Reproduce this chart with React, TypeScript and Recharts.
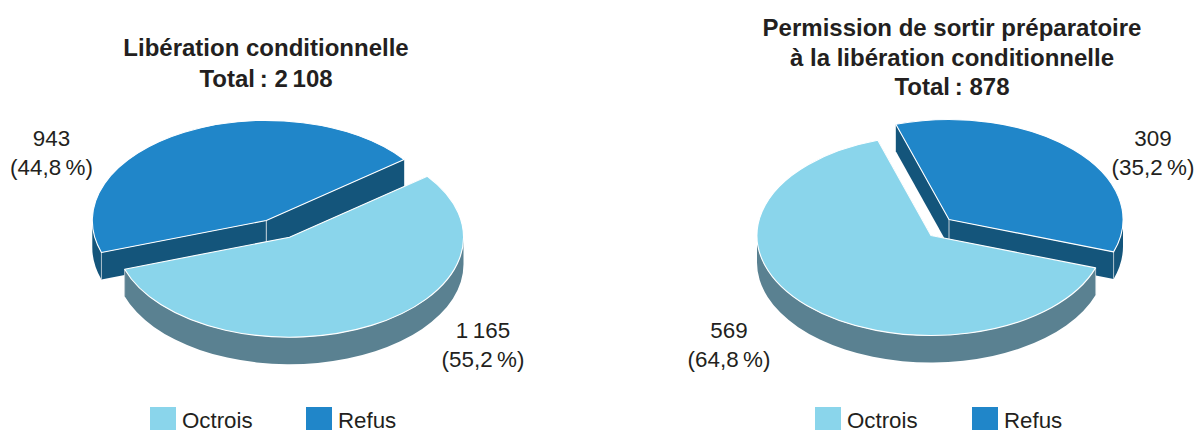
import React from 'react'
import { Legend, Pie, PieChart } from 'recharts'

const names = ['Refus', 'Octrois']
const fills = ['#2086c9', '#8ad5eb']
const walls = ['#14557b', '#5a8191']

const leftValues = [943, 1165]
const leftPercents = ['44,8', '55,2']
const rightValues = [309, 569]
const rightPercents = ['35,2', '64,8']

const leftTitle = ['Libération conditionnelle', 'Total\u2009: 2\u2009108']
const rightTitle = ['Permission de sortir préparatoire', 'à la libération conditionnelle', 'Total\u2009: 878']

const RX = 174
const RY = 100
const DEPTH = 27
const FONT = '"Liberation Sans", Arial, sans-serif'
const INK = '#231f20'

const fmt = (v: number) => String(v).replace(/\B(?=(\d{3})+$)/g, '\u2009')
const rad = (a: number) => (a * Math.PI) / 180

// recharts only knows circles, so the sector is re-drawn as a squashed slab
const makeSlab = (shift: number[][]) => (props: any) => {
  const { startAngle, endAngle, index, fill } = props
  const cx = props.cx + shift[index][0]
  const cy = props.cy + shift[index][1]
  const pt = (a: number, d = 0) => `${cx + RX * Math.cos(rad(a))} ${cy - RY * Math.sin(rad(a)) + d}`
  const wall = walls[index]
  const large = endAngle - startAngle > 180 ? 1 : 0

  const outer: number[][] = []
  for (const k of [-1, 0, 1]) {
    const a = Math.max(startAngle, 180 + 360 * k)
    const b = Math.min(endAngle, 360 + 360 * k)
    if (b > a) outer.push([a, b])
  }
  const edges = [startAngle, endAngle].filter((e) => outer.some(([a, b]) => e >= a && e <= b))
  const hub = `${cx} ${cy}`
  const hubLow = `${cx} ${cy + DEPTH}`

  return (
    <g>
      {[startAngle, endAngle].map((a) => (
        <path key={a} d={`M${hub} L${pt(a)} L${pt(a, DEPTH)} L${hubLow} Z`} fill={wall} />
      ))}
      {outer.map(([a, b]) => (
        <path
          key={a}
          d={`M${pt(a)} A${RX} ${RY} 0 0 0 ${pt(b)} L${pt(b, DEPTH)} A${RX} ${RY} 0 0 1 ${pt(a, DEPTH)} Z`}
          fill={wall}
        />
      ))}
      {edges.map((a) => (
        <path key={a} d={`M${pt(a)} L${pt(a, DEPTH)}`} stroke="#d5dde2" strokeWidth={0.7} />
      ))}
      <path d={`M${hub} L${hubLow}`} stroke="#d5dde2" strokeWidth={0.9} />
      <path
        d={`M${hub} L${pt(startAngle)} A${RX} ${RY} 0 ${large} 0 ${pt(endAngle)} Z`}
        fill={fill}
        stroke="#fff"
        strokeWidth={1.1}
        strokeLinejoin="round"
      />
    </g>
  )
}

type BlockProps = {
  left: number
  width: number
  values: number[]
  percents: string[]
  title: string[]
  titleX: number
  titleY: number
  titleStep: number
  cx: number
  cy: number
  start: number
  shift: number[][]
  labelAt: number[][]
  legendAt: number[]
}

const PieBlock = (p: BlockProps) => {
  const data = names.map((name, i) => ({ name, value: p.values[i], fill: fills[i] }))
  const Slab = makeSlab(p.shift)

  const renderLabel = ({ index, value }: any) => {
    const [x, y] = p.labelAt[index]
    return (
      <text x={x} y={y} textAnchor="middle" fontFamily={FONT} fontSize={22.4} fill={INK}>
        <tspan x={x}>{fmt(value)}</tspan>
        <tspan x={x} dy={28.5}>{`(${p.percents[index]}\u2009%)`}</tspan>
      </text>
    )
  }

  // the payload comes sorted by name already: Octrois, then Refus
  const renderLegend = ({ payload }: any) => (
    <div style={{ position: 'relative', height: 23 }}>
      {(payload || []).map((item: any, i: number) => (
        <div key={item.value} style={{ position: 'absolute', left: p.legendAt[i], top: 0, display: 'flex', alignItems: 'flex-end', height: 23 }}>
          <span style={{ display: 'block', width: 26, height: 23, background: item.payload.fill, marginRight: 6 }} />
          <span style={{ fontFamily: FONT, fontSize: 22.3, color: INK, lineHeight: '19px', height: 19, whiteSpace: 'nowrap' }}>{item.value}</span>
        </div>
      ))}
    </div>
  )

  return (
    <div style={{ position: 'absolute', left: p.left, top: 0 }}>
      <PieChart width={p.width} height={430} margin={{ top: 0, right: 0, bottom: 0, left: 0 }}>
        {p.title.map((line, i) => (
          <text
            key={line}
            x={p.titleX}
            y={p.titleY + i * p.titleStep}
            textAnchor="middle"
            fontFamily={FONT}
            fontSize={24}
            fontWeight="bold"
            fill={INK}
          >
            {line}
          </text>
        ))}
        <Pie
          data={data}
          dataKey="value"
          nameKey="name"
          cx={p.cx}
          cy={p.cy}
          outerRadius={RX}
          startAngle={p.start}
          endAngle={p.start + 360}
          stroke="none"
          shape={Slab}
          label={renderLabel}
          labelLine={false}
          isAnimationActive={false}
        />
        <Legend
          content={renderLegend}
          wrapperStyle={{ position: 'absolute', left: 0, top: 407, width: p.width, height: 23, bottom: 'auto' }}
        />
      </PieChart>
    </div>
  )
}

export default function App() {
  return (
    <div style={{ position: 'absolute', left: 0, top: 0, width: 1197, height: 430, overflow: 'hidden', background: '#fff' }}>
      <PieBlock
        left={0}
        width={598}
        values={leftValues}
        percents={leftPercents}
        title={leftTitle}
        titleX={266}
        titleY={55.5}
        titleStep={31.5}
        cx={266.3}
        cy={220.5}
        start={37.6}
        shift={[[0, 0], [23.2, 16.7]]}
        labelAt={[[51.5, 146], [483, 338]]}
        legendAt={[150, 306]}
      />
      <PieBlock
        left={598}
        width={599}
        values={rightValues}
        percents={rightPercents}
        title={rightTitle}
        titleX={354}
        titleY={36}
        titleStep={29.5}
        cx={351}
        cy={219.5}
        start={-18.9}
        shift={[[0, 0], [-18, 16]]}
        labelAt={[[555, 146], [131, 338]]}
        legendAt={[217, 374]}
      />
    </div>
  )
}
